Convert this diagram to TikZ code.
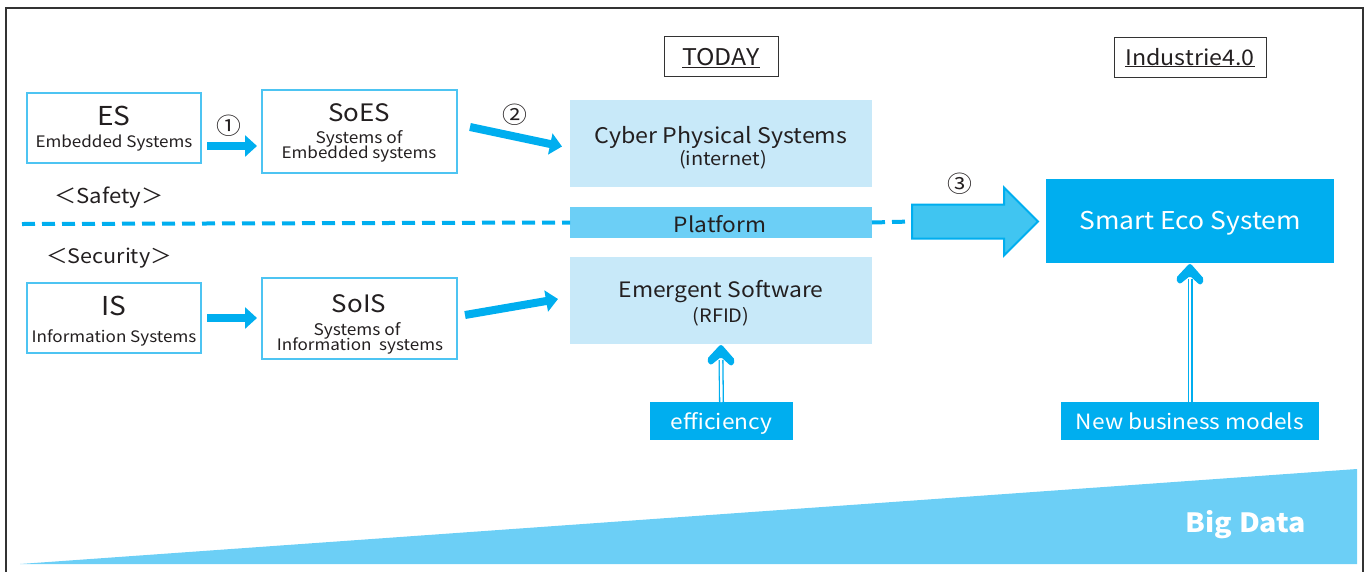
\documentclass[tikz,border=0pt]{standalone}
\usepackage{fontspec}
\setmainfont{Noto Sans CJK JP}[FakeStretch=1.08]
\usetikzlibrary{arrows.meta}
\definecolor{txt}{HTML}{231F20}
\definecolor{bord}{HTML}{4DC4F2}
\definecolor{lite}{HTML}{C8E9F9}
\definecolor{mid}{HTML}{6CCFF6}
\definecolor{acc}{HTML}{00AEEF}
\definecolor{bigarr}{HTML}{40C5F1}
\definecolor{frame}{HTML}{333333}
\newcommand{\fsz}[1]{\fontsize{#1}{#1}\selectfont}
\begin{document}
\begin{tikzpicture}[x=1pt,y=-1pt,
  every node/.style={inner sep=0pt, outer sep=0pt, text=txt},
  obox/.style={draw=bord, line width=1.3pt, fill=white},
  lbox/.style={fill=lite},
  tagbox/.style={draw=frame, line width=0.9pt},
  solid/.style={fill=acc},
  lbl/.style={anchor=base},
  fat/.style={draw=acc, line width=8pt, -{Triangle[length=12pt,width=21pt]}},
  dashline/.style={draw=acc, line width=4pt, dash pattern=on 13pt off 7pt},
  dbl/.style={draw=acc, line width=1.3pt, double=white, double distance=2.4pt},
  uphead/.style={fill=acc, draw=acc, line width=1.5pt, line join=round, rounded corners=2pt}
]
\useasboundingbox (0,0) rectangle (1369,571);
% outer frame
\draw[frame, line width=1.5pt] (6,580) -- (6,8) -- (1363,8) -- (1363,580);

% big data wedge
\fill[mid] (20,564) -- (1357,469) -- (1357,564) -- cycle;
\node[lbl, text=white, font=\fsz{26.5}\bfseries] (bd) at (1246,532) {Big Data};

% tags
\node[tagbox, minimum width=114pt, minimum height=40pt] (today) at (721,56) {};
\node[lbl, font=\fsz{23}] (todayT) at (721,65) {\underline{TODAY}};
\node[tagbox, minimum width=152pt, minimum height=40pt] (ind) at (1190,57) {};
\node[lbl, font=\fsz{21.5}] (indT) at (1190,65) {\underline{Industrie4.0}};

% left boxes
\node[obox, minimum width=174pt, minimum height=70pt] (es) at (114,128) {};
\node[lbl, font=\fsz{26}] (esA) at (114,125) {ES};
\node[lbl, font=\fsz{15.8}] (esB) at (114,147) {Embedded Systems};

\node[obox, minimum width=195pt, minimum height=83pt] (soes) at (359.5,131.5) {};
\node[lbl, font=\fsz{24}] (soesA) at (359,121) {SoES};
\node[lbl, font=\fsz{16}] (soesB) at (359,143) {Systems of};
\node[lbl, font=\fsz{15.8}] (soesC) at (359,158) {Embedded systems};

\node[obox, minimum width=174pt, minimum height=70pt] (is) at (114,318) {};
\node[lbl, font=\fsz{26}] (isA) at (114,315) {IS};
\node[lbl, font=\fsz{15.8}] (isB) at (114,342) {Information Systems};

\node[obox, minimum width=195pt, minimum height=81pt] (sois) at (359.5,318.5) {};
\node[lbl, font=\fsz{24}] (soisA) at (359,312) {SoIS};
\node[lbl, font=\fsz{16}] (soisB) at (357,335) {Systems of};
\node[lbl, font=\fsz{15.8}] (soisC) at (360,350) {Information\ \ systems};

% safety / security
\node[lbl, font=\fsz{20.5}] (safety) at (109,203) {＜Safety＞};
\node[lbl, font=\fsz{20}] (security) at (109,263) {＜Security＞};

% middle column
\node[lbox, minimum width=302pt, minimum height=87pt] (cps) at (721,143.5) {};
\node[lbl, font=\fsz{21.5}] (cpsA) at (721,143) {Cyber Physical Systems};
\node[lbl, font=\fsz{18.5}] (cpsB) at (723,165) {(internet)};

\node[fill=mid, minimum width=302pt, minimum height=31pt] (plat) at (721,222.5) {};
\node[lbl, font=\fsz{21}] (platT) at (720,232) {Platform};

\node[lbox, minimum width=302pt, minimum height=87pt] (em) at (721,300.5) {};
\node[lbl, font=\fsz{21.2}] (emA) at (721,297) {Emergent Software};
\node[lbl, font=\fsz{18.5}] (emB) at (721,322) {(RFID)};

\node[solid, minimum width=143pt, minimum height=38pt] (eff) at (721.5,421) {};
\node[lbl, text=white, font=\fsz{21}] (effT) at (721.5,429) {efficiency};

% right column
\node[solid, minimum width=288pt, minimum height=84pt] (smart) at (1190,221) {};
\node[lbl, text=white, font=\fsz{24.5}] (smartT) at (1190,229) {Smart Eco System};

\node[solid, minimum width=258pt, minimum height=38pt] (nbm) at (1190,421) {};
\node[lbl, text=white, font=\fsz{21}] (nbmT) at (1190,429) {New business models};

% numbers
\node[font=\fsz{23}] (n1) at (229,126) {①};
\node[font=\fsz{23}] (n2) at (515,115) {②};
\node[font=\fsz{23}] (n3) at (960,184) {③};

% fat arrows
\draw[fat] ([shift={(6pt,-18pt)}]es.east) -- ([shift={(-5pt,-14.5pt)}]soes.west);
\draw[fat] ([shift={(6pt,0pt)}]is.east) -- ([shift={(-5pt,0.5pt)}]sois.west);
\draw[fat] ([shift={(13pt,4.5pt)}]soes.east) -- ([shift={(-8pt,-3pt)}]cps.west);
\draw[fat] ([shift={(8pt,3.5pt)}]sois.east) -- ([shift={(-12pt,1.5pt)}]em.west);

% dashed line and big arrow
\coordinate (dl) at (22,224);
\coordinate (a3) at (912,221.5);
\draw[dashline] (dl) -- (plat.west);
\draw[dashline] (plat.east) -- (a3);
\filldraw[fill=bigarr, draw=acc, line width=2pt, line join=miter]
  (a3) -- ++(0,-17) -- ++(92,0) -- ++(0,-17) -- ++(34,34) -- ++(-34,34) -- ++(0,-17) -- ++(-92,0) -- cycle;

% double arrows
\draw[dbl] (eff.north) -- ([yshift=-16pt]em.south);
\filldraw[uphead] ([yshift=-1pt]em.south) -- ++(13.5pt,-15.5pt) -- ++(-3pt,-5pt) -- ([yshift=-12pt]em.south) -- ++(-10.5pt,-8.5pt) -- ++(-3pt,5pt) -- cycle;
\draw[dbl] (nbm.north) -- ([yshift=-16pt]smart.south);
\filldraw[uphead] ([yshift=-1pt]smart.south) -- ++(13.5pt,-15.5pt) -- ++(-3pt,-5pt) -- ([yshift=-12pt]smart.south) -- ++(-10.5pt,-8.5pt) -- ++(-3pt,5pt) -- cycle;
\end{tikzpicture}
\end{document}
